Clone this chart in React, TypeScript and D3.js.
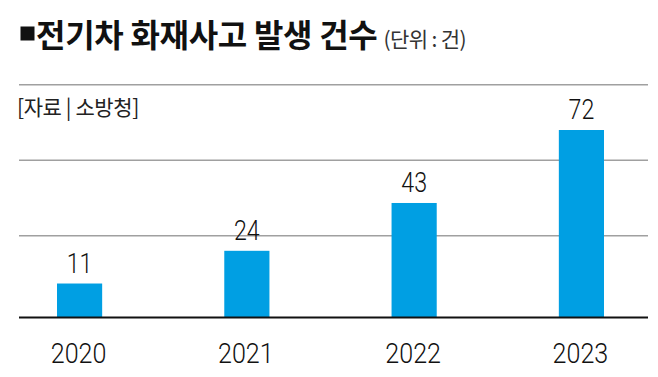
import React from "react";
import * as d3 from "d3";

const years = ["2020", "2021", "2022", "2023"];
const counts = [11, 24, 43, 72];
const gridTicks = [30, 60, 90];
const titleText = "전기차 화재사고 발생 건수";
const unitText = "(단위 : 건)";
const sourceText = "[자료 | 소방청]";

const W = 658;
const H = 377;

export default function App() {
  const x = d3.scaleBand<string>().domain(years).range([57, 604]).paddingInner(0.73).paddingOuter(0);
  const y = d3.scaleLinear().domain([0, 90]).range([311.2, 84.7]);
  const baseY = y(0) + 6.3;
  const lineX0 = 19;
  const lineX1 = 648;
  const digitFont = "Roboto, 'Liberation Sans', Arial, sans-serif";
  const krFont = "'Noto Sans CJK KR', 'Noto Sans', sans-serif";

  return (
    <svg width={W} height={H} style={{ position: "absolute", left: 0, top: 0, background: "#fff" }}>
      <rect x={0} y={0} width={W} height={H} fill="#fff" />
      {/* title */}
      <rect x={20.5} y={26.5} width={14} height={14} fill="#111" />
      <text x={36} y={47} fontFamily={krFont} fontWeight={700} fontSize={32} fill="#111" letterSpacing={-0.3}>
        {titleText}
        <tspan fontWeight={400} fontSize={21} fill="#333" letterSpacing={-0.6} dx={6}>
          {unitText}
        </tspan>
      </text>
      {/* source */}
      <text x={17} y={115} fontFamily={krFont} fontWeight={400} fontSize={21} fill="#222" letterSpacing={-0.4}>
        {sourceText}
      </text>
      {/* grid */}
      {gridTicks.map((t) => (
        <line key={t} x1={lineX0} x2={lineX1} y1={y(t)} y2={y(t)} stroke="#a0a0a0" strokeWidth={1.6} />
      ))}
      {/* bars */}
      {years.map((yr, i) => (
        <rect key={yr} x={x(yr)!} y={y(counts[i])} width={x.bandwidth()} height={baseY - y(counts[i])} fill="#009fe3" />
      ))}
      {/* value labels */}
      {years.map((yr, i) => (
        <g key={"v" + yr} transform={`translate(${x(yr)! + x.bandwidth() / 2},${y(counts[i]) - 11}) scale(0.86,1)`}>
          <text x={0} y={0} textAnchor="middle" fontFamily={digitFont} fontWeight={300} fontSize={27} fill="#111">
            {counts[i]}
          </text>
        </g>
      ))}
      {/* baseline */}
      <line x1={lineX0} x2={lineX1} y1={baseY} y2={baseY} stroke="#111" strokeWidth={2.2} />
      {/* year labels */}
      {years.map((yr) => (
        <g key={"y" + yr} transform={`translate(${x(yr)! + x.bandwidth() / 2 - 1},${363.3}) scale(0.88,1)`}>
          <text x={0} y={0} textAnchor="middle" fontFamily={digitFont} fontWeight={300} fontSize={28.5} fill="#111">
            {yr}
          </text>
        </g>
      ))}
    </svg>
  );
}
